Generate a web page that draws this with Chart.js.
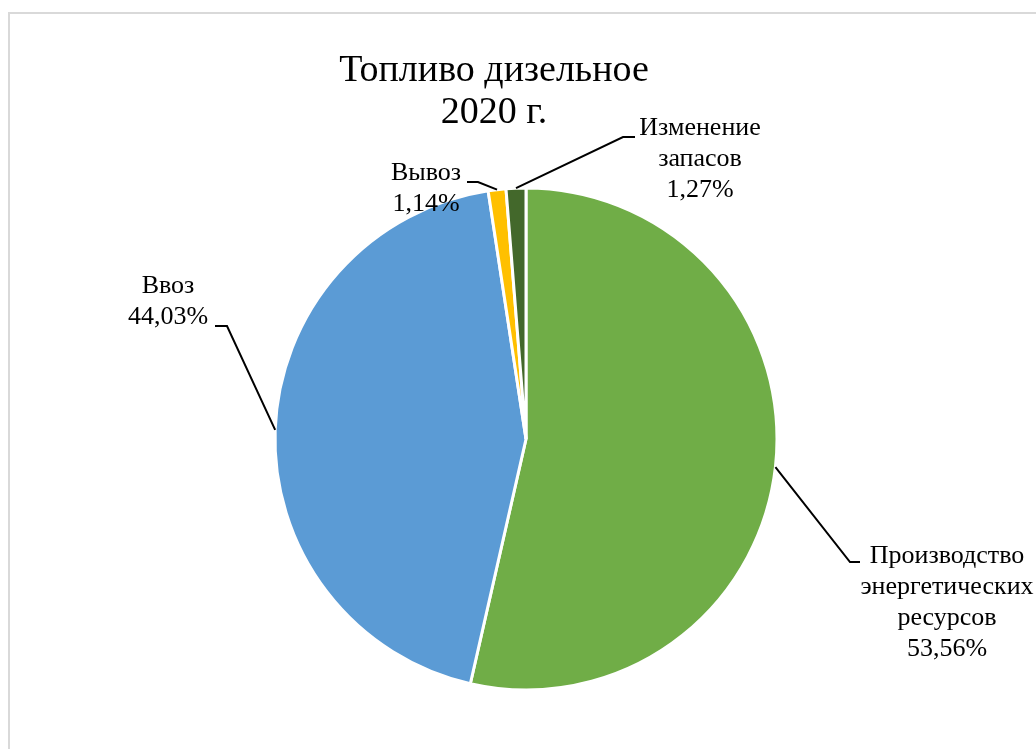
<!DOCTYPE html>
<html lang="ru">
<head>
<meta charset="utf-8">
<title>Топливо дизельное 2020 г.</title>
<script src="https://cdn.jsdelivr.net/npm/chart.js@4"></script>
<style>
    html, body { margin: 0; padding: 0; background: #fff; }
    #wrap { position: relative; width: 1036px; height: 749px; }
    #frame {
        position: absolute; left: 8px; top: 12px; right: -2px; bottom: -2px;
        border-left: 2px solid #d9d9d9; border-top: 2px solid #d9d9d9;
    }
    #fuel_chart { position: absolute; left: 0; top: 0; }
</style>
</head>
<body>
<div id="wrap">
    <div id="frame"></div>
    <canvas id="fuel_chart" width="1036" height="749"></canvas>
</div>
<script>
// Структура ресурсов дизельного топлива, %
const titleLines = ['Топливо дизельное', '2020 г.'];
const categories = [
    ['Производство', 'энергетических', 'ресурсов'],
    ['Ввоз'],
    ['Вывоз'],
    ['Изменение', 'запасов']
];
const shares = [53.56, 44.03, 1.14, 1.27];
const colors = ['#70AD47', '#5B9BD5', '#FFC000', '#43682B'];

// где ставить подписи: излом выноски, конец полки, центр текста и первая строка (от центра круга)
const labelSpots = [
    { elbow: [324, 123], end: [334, 123], textX: 421, textY: 124 },
    { elbow: [-299, -113], end: [-311, -113], textX: -358, textY: -146 },
    { elbow: [-48, -257], end: [-59, -257], textX: -100, textY: -259 },
    { elbow: [97, -302], end: [109, -302], textX: 174, textY: -304 }
];
const serif = '"Liberation Serif", "Times New Roman", serif';

const fmt = v => v.toFixed(2).replace('.', ',') + '%';

// заголовок в две строки, чуть левее центра круга
const chartTitle = {
    id: 'chartTitle',
    afterDraw(chart) {
        const ctx = chart.ctx;
        ctx.save();
        ctx.font = '38px ' + serif;
        ctx.fillStyle = '#000';
        ctx.textAlign = 'center';
        ctx.textBaseline = 'alphabetic';
        titleLines.forEach((line, k) => ctx.fillText(line, 494, 81 + k * 42));
        ctx.restore();
    }
};

// выноски с подписями категорий
const calloutLabels = {
    id: 'calloutLabels',
    afterDatasetsDraw(chart) {
        const ctx = chart.ctx;
        const meta = chart.getDatasetMeta(0);
        ctx.save();
        ctx.font = '26px ' + serif;
        ctx.fillStyle = '#000';
        ctx.strokeStyle = '#000';
        ctx.lineWidth = 2;
        ctx.textAlign = 'center';
        ctx.textBaseline = 'alphabetic';
        meta.data.forEach((arc, i) => {
            const p = arc.getProps(['x', 'y', 'startAngle', 'endAngle', 'outerRadius'], true);
            const mid = (p.startAngle + p.endAngle) / 2;
            const spot = labelSpots[i];
            ctx.beginPath();
            ctx.moveTo(p.x + Math.cos(mid) * p.outerRadius, p.y + Math.sin(mid) * p.outerRadius);
            ctx.lineTo(p.x + spot.elbow[0], p.y + spot.elbow[1]);
            ctx.lineTo(p.x + spot.end[0], p.y + spot.end[1]);
            ctx.stroke();
            const lines = categories[i].concat([fmt(shares[i])]);
            lines.forEach((line, k) => {
                ctx.fillText(line, p.x + spot.textX, p.y + spot.textY + k * 31);
            });
        });
        ctx.restore();
    }
};

const ctx = document.getElementById('fuel_chart').getContext('2d');

const fuelChart = new Chart(ctx, {
    type: 'pie',
    data: {
        labels: categories.map(c => c.join(' ')),
        datasets: [{
            data: shares,
            backgroundColor: colors,
            borderColor: '#ffffff',
            borderWidth: 3
        }]
    },
    options: {
        responsive: false,
        animation: false,
        radius: 251,
        layout: {
            padding: { left: 16, right: 0, top: 129, bottom: 0 }
        },
        plugins: {
            legend: { display: false },
            tooltip: { enabled: false },
            title: { display: false }
        }
    },
    plugins: [calloutLabels, chartTitle]
});
</script>
</body>
</html>
